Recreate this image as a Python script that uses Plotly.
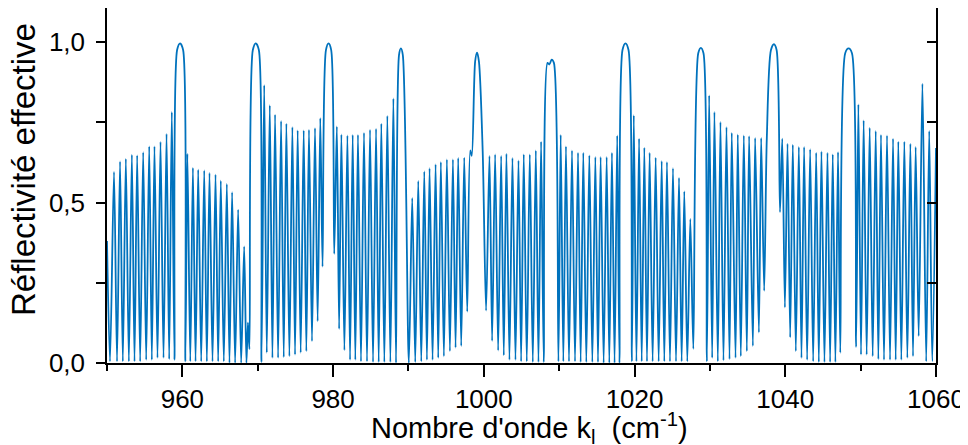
import plotly.graph_objects as go

# ---- data ----
# narrow fringe maxima: wavenumber (cm^-1) and effective reflectivity
fringe_k = [950.0, 950.93, 951.73, 952.5, 953.3, 954.0, 954.8, 955.6, 956.3, 957.1, 957.9, 958.6,
            960.67, 961.4, 962.1, 962.9, 963.6, 964.4, 965.1, 965.9, 966.6, 967.4, 968.2, 968.7,
            970.86, 971.6, 972.3, 973.1, 973.8, 974.6, 975.3, 976.1, 976.8, 977.6, 978.3,
            980.5, 981.1, 981.9, 982.6, 983.3, 984.1, 984.9, 985.7, 986.4, 987.2, 988.0,
            990.5, 991.3, 992.1, 992.8, 993.6, 994.3, 995.1, 995.9, 996.6, 997.4, 998.2, 998.4, 999.85,
            1000.75, 1001.5, 1002.3, 1003.0, 1003.8, 1004.6, 1005.3, 1006.1, 1006.9, 1007.6,
            1010.2, 1010.9, 1011.7, 1012.5, 1013.2, 1014.0, 1014.8, 1015.5, 1016.3, 1017.0, 1017.7,
            1019.9, 1020.6, 1021.3, 1022.0, 1022.8, 1023.6, 1024.3, 1025.1, 1025.9, 1026.6, 1027.4,
            1029.9, 1030.6, 1031.4, 1032.2, 1032.9, 1033.7, 1034.5, 1035.2, 1036.0, 1036.8, 1037.55,
            1039.6, 1040.3, 1041.0, 1041.8, 1042.5, 1043.3, 1044.1, 1044.8, 1045.6, 1046.3, 1047.0,
            1049.7, 1050.4, 1051.2, 1052.0, 1052.7, 1053.5, 1054.3, 1055.0, 1055.8, 1056.6, 1057.3,
            1058.2, 1059.1, 1060.0]
fringe_R = [0.38, 0.595, 0.628, 0.636, 0.649, 0.647, 0.657, 0.675, 0.675, 0.689, 0.714, 0.782,
            0.652, 0.608, 0.602, 0.600, 0.592, 0.587, 0.568, 0.558, 0.532, 0.478, 0.363, 0.126,
            0.866, 0.803, 0.774, 0.754, 0.746, 0.735, 0.725, 0.725, 0.727, 0.732, 0.763,
            0.737, 0.712, 0.709, 0.711, 0.711, 0.717, 0.727, 0.730, 0.746, 0.770, 0.824,
            0.514, 0.567, 0.597, 0.607, 0.619, 0.626, 0.634, 0.634, 0.639, 0.640, 0.662, 0.645, 0.66,
            0.645, 0.650, 0.645, 0.652, 0.639, 0.631, 0.650, 0.650, 0.662, 0.690,
            0.711, 0.675, 0.662, 0.655, 0.655, 0.647, 0.642, 0.642, 0.642, 0.655, 0.709,
            0.772, 0.699, 0.671, 0.655, 0.640, 0.629, 0.626, 0.607, 0.577, 0.535, 0.449,
            0.834, 0.782, 0.751, 0.735, 0.717, 0.712, 0.709, 0.707, 0.701, 0.701, 0.70,
            0.699, 0.683, 0.680, 0.673, 0.673, 0.666, 0.655, 0.659, 0.655, 0.650, 0.657,
            0.806, 0.756, 0.733, 0.723, 0.711, 0.709, 0.699, 0.690, 0.690, 0.683, 0.673,
            0.870, 0.723, 0.670]

# minima between fringes
trough_k = [950.4, 951.33, 952.1, 952.9, 953.65, 954.4, 955.2, 955.95, 956.7, 957.5, 958.25, 958.95,
            960.4, 961.05, 961.75, 962.5, 963.25, 964.0, 964.75, 965.5, 966.25, 967.0, 967.8, 968.5, 968.9,
            970.5, 971.2, 971.95, 972.7, 973.45, 974.2, 974.95, 975.7, 976.45, 977.2, 977.95, 978.6,
            980.15, 980.8, 981.5, 982.25, 982.95, 983.7, 984.5, 985.3, 986.05, 986.8, 987.6, 988.35,
            990.05, 990.9, 991.7, 992.45, 993.2, 993.95, 994.7, 995.5, 996.25, 997.0, 997.8,
            1000.3, 1001.1, 1001.9, 1002.65, 1003.4, 1004.2, 1004.95, 1005.7, 1006.5, 1007.25, 1007.95,
            1009.9, 1010.55, 1011.3, 1012.1, 1012.85, 1013.6, 1014.4, 1015.15, 1015.9, 1016.65, 1017.35, 1018.0,
            1019.65, 1020.25, 1020.95, 1021.65, 1022.4, 1023.2, 1023.95, 1024.7, 1025.5, 1026.25, 1027.0, 1027.8,
            1029.6, 1030.3, 1031.05, 1031.8, 1032.6, 1033.4, 1034.1, 1034.9, 1035.7, 1036.5, 1037.2,
            1039.3, 1039.95, 1040.65, 1041.4, 1042.15, 1042.9, 1043.7, 1044.45, 1045.2, 1045.95, 1046.65, 1047.3,
            1049.4, 1050.05, 1050.8, 1051.6, 1052.35, 1053.1, 1053.9, 1054.65, 1055.4, 1056.2, 1056.95, 1057.7,
            1058.7, 1059.5]
trough_R = [0.005, 0.005, 0.005, 0.005, 0.005, 0.005, 0.010, 0.010, 0.016, 0.016, 0.012, 0.010,
            0.005, 0.005, 0.005, 0.005, 0.005, 0.005, 0.005, 0.005, 0.0, 0.0, 0.0, 0.0, 0.043,
            0.003, 0.032, 0.016, 0.016, 0.018, 0.021, 0.026, 0.032, 0.037, 0.068, 0.130, 0.300,
            0.340, 0.106, 0.040, 0.010, 0.010, 0.005, 0.005, 0.003, 0.003, 0.003, 0.003, 0.0,
            0.0, 0.003, 0.005, 0.010, 0.010, 0.016, 0.021, 0.037, 0.048, 0.053, 0.160,
            0.163, 0.069, 0.039, 0.024, 0.010, 0.010, 0.005, 0.005, 0.003, 0.003, 0.003,
            0.005, 0.005, 0.005, 0.005, 0.003, 0.003, 0.003, 0.003, 0.0, 0.0, 0.0, 0.0,
            0.005, 0.005, 0.005, 0.005, 0.005, 0.005, 0.005, 0.005, 0.005, 0.005, 0.005, 0.044,
            0.005, 0.016, 0.005, 0.008, 0.012, 0.016, 0.021, 0.037, 0.053, 0.095, 0.225,
            0.470, 0.173, 0.080, 0.037, 0.016, 0.010, 0.005, 0.003, 0.003, 0.003, 0.003, 0.032,
            0.050, 0.026, 0.026, 0.021, 0.012, 0.010, 0.010, 0.010, 0.010, 0.016, 0.021, 0.084,
            0.005, 0.005]

# broad high-reflectivity maxima (shoulders and top)
broad_k = [959.3, 959.7, 960.1,
           969.35, 969.75, 970.15,
           979.05, 979.4, 979.75,
           988.75, 989.0, 989.25,
           998.85, 999.1, 999.35,
           1008.45, 1008.7, 1009.0, 1009.3,
           1018.4, 1018.8, 1019.2,
           1028.45, 1028.8, 1029.15,
           1038.1, 1038.5, 1038.85,
           1047.95, 1048.4, 1048.85]
broad_R = [0.975, 0.996, 0.975,
           0.975, 0.996, 0.975,
           0.975, 0.996, 0.975,
           0.960, 0.980, 0.960,
           0.940, 0.967, 0.940,
           0.935, 0.930, 0.945, 0.935,
           0.975, 0.996, 0.975,
           0.965, 0.982, 0.965,
           0.975, 0.993, 0.975,
           0.965, 0.980, 0.965]

x_tick_vals = [960, 980, 1000, 1020, 1040, 1060]
y_tick_vals = [0.0, 0.5, 1.0]

# ---- build the curve ----
pts = sorted(zip(fringe_k + trough_k + broad_k, fringe_R + trough_R + broad_R))
k_all = [p[0] for p in pts]
R_all = [p[1] for p in pts]

FONT = "Liberation Sans, Arial, sans-serif"
fig = go.Figure()
fig.add_trace(go.Scatter(x=k_all, y=R_all, mode="lines",
                         line=dict(color="#0072BD", width=1.8, shape="spline", smoothing=0.8),
                         showlegend=False, hoverinfo="skip"))
fig.add_trace(go.Scatter(x=[], y=[], yaxis="y2", showlegend=False))

yr = [0, 1.106]
fig.update_layout(
    width=960, height=437,
    margin=dict(l=99, r=32, t=0, b=82),
    paper_bgcolor="white", plot_bgcolor="white",
    separators=", ",
    font=dict(family=FONT, size=26, color="black"),
    xaxis=dict(range=[950, 1060], showgrid=False, zeroline=False, automargin=False,
               showline=True, linecolor="black", linewidth=1.5,
               ticks="outside", ticklen=12, tickwidth=1.5, tickcolor="black",
               tickvals=x_tick_vals, tickfont=dict(size=26),
               minor=dict(ticks="outside", ticklen=6, tickwidth=1.5, tickcolor="black",
                          dtick=10, tick0=950, showgrid=False)),
    yaxis=dict(range=yr, showgrid=False, zeroline=False, automargin=False,
               showline=True, linecolor="black", linewidth=1.5,
               ticks="outside", ticklen=9, tickwidth=1.5, tickcolor="black",
               tickvals=y_tick_vals, tickformat=".1f", tickfont=dict(size=26),
               ticklabelstandoff=6,
               minor=dict(ticks="outside", ticklen=9, tickwidth=1.5, tickcolor="black",
                          dtick=0.25, tick0=0, showgrid=False)),
    yaxis2=dict(range=yr, overlaying="y", side="right", showgrid=False, zeroline=False,
                automargin=False,
                showline=True, linecolor="black", linewidth=1.5,
                ticks="inside", ticklen=9, tickwidth=1.5, tickcolor="black",
                tickvals=y_tick_vals, showticklabels=False,
                minor=dict(ticks="inside", ticklen=9, tickwidth=1.5, tickcolor="black",
                           dtick=0.25, tick0=0, showgrid=False)),
    annotations=[
        dict(text="Nombre d'onde k<sub>l</sub>  (cm<sup>-1</sup>)", xref="paper", yref="paper",
             x=0.510, y=0, xanchor="center", yanchor="middle", yshift=-65,
             showarrow=False, font=dict(size=29)),
        dict(text="Réflectivité effective", xref="paper", yref="paper", textangle=-90,
             x=0, y=0.5437, xanchor="center", yanchor="middle", xshift=-83,
             showarrow=False, font=dict(size=33)),
    ],
)
fig.write_html("out.html")
